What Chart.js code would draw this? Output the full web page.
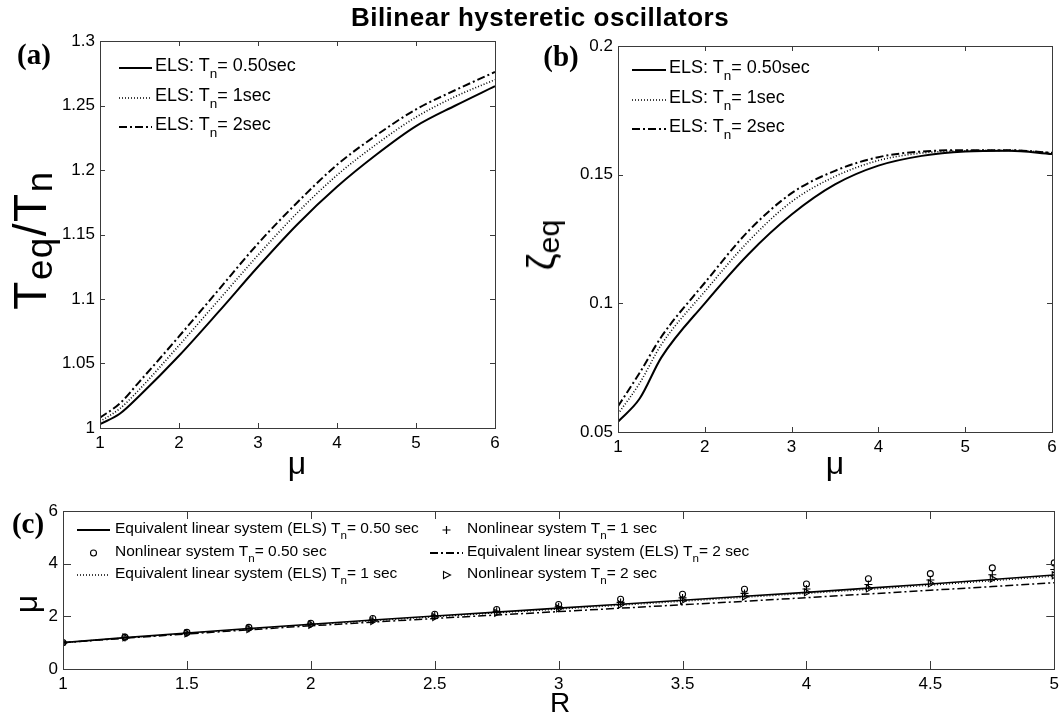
<!DOCTYPE html>
<html>
<head>
<meta charset="utf-8">
<title>Bilinear hysteretic oscillators</title>
<script src="https://cdn.jsdelivr.net/npm/chart.js@4.4.1/dist/chart.umd.min.js"></script>
<style>
  html, body { margin: 0; padding: 0; background: #fff; }
  #fig { position: relative; width: 1064px; height: 722px; overflow: hidden;
         font-family: "Liberation Sans", Arial, sans-serif; color: #000; }
  #fig canvas { position: absolute; }
  .txt { position: absolute; white-space: nowrap; line-height: 1; }
  .txt sub { font-size: 0.75em; vertical-align: -0.55em; line-height: 0; }
  .txt.ylab sub { font-size: 0.8em; vertical-align: -0.15em; }
  .ctr { transform: translate(-50%, -50%); }
  .rot { transform: translate(-50%, -50%) rotate(-90deg); }
  .panel { font-family: "Liberation Serif", "Times New Roman", serif; font-weight: bold; }
  .key { position: absolute; overflow: visible; }
</style>
</head>
<body>
<div id="fig">
  <canvas id="chart-a" width="520" height="470" style="left:0;top:0"></canvas>
  <canvas id="chart-b" width="544" height="470" style="left:520px;top:0"></canvas>
  <canvas id="chart-c" width="1064" height="242" style="left:0;top:480px"></canvas>

  <div class="txt ctr" style="left:540px;top:17px;font-size:26px;font-weight:bold;letter-spacing:0.5px">Bilinear hysteretic oscillators</div>

  <div class="txt ctr panel" style="left:34px;top:54px;font-size:29px">(a)</div>
  <div class="txt ctr panel" style="left:561px;top:56px;font-size:29px">(b)</div>
  <div class="txt ctr panel" style="left:28px;top:523px;font-size:29px">(c)</div>

  <div class="txt rot ylab" style="left:30px;top:240px;font-size:46px;letter-spacing:1.5px">T<sub>eq</sub>/T<sub>n</sub></div>
  <div class="txt rot ylab" style="left:541px;top:245px;font-size:38px">&zeta;<sub>eq</sub></div>
  <div class="txt ctr" style="left:297px;top:463px;font-size:32px">&mu;</div>
  <div class="txt ctr" style="left:835px;top:463px;font-size:32px">&mu;</div>
  <div class="txt rot" style="left:26px;top:604px;font-size:32px">&mu;</div>
  <div class="txt ctr" style="left:560px;top:703px;font-size:28px">R</div>
</div>

<script>
// ------------------------------------------------------------
// Bilinear hysteretic oscillators — three Chart.js panels
// ------------------------------------------------------------

// --- Panel (a) / (b): period ratio & damping vs ductility ---
var MU = [1, 1.25, 1.5, 2, 2.5, 3, 3.5, 4, 4.5, 5, 5.5, 6];

var TEQ_05 = [1.003, 1.011, 1.025, 1.056, 1.090, 1.125, 1.158, 1.187, 1.212, 1.234, 1.250, 1.265];
var TEQ_1  = [1.005, 1.015, 1.030, 1.064, 1.099, 1.134, 1.167, 1.196, 1.220, 1.241, 1.257, 1.270];
var TEQ_2  = [1.008, 1.019, 1.036, 1.071, 1.107, 1.143, 1.175, 1.204, 1.227, 1.247, 1.262, 1.276];

var ZEQ_05 = [0.054, 0.063, 0.079, 0.100, 0.119, 0.1345, 0.1462, 0.1535, 0.1573, 0.159, 0.1593, 0.158];
var ZEQ_1  = [0.057, 0.069, 0.084, 0.1046, 0.124, 0.1395, 0.1493, 0.1555, 0.1584, 0.1593, 0.1595, 0.1585];
var ZEQ_2  = [0.060, 0.073, 0.087, 0.108, 0.128, 0.1428, 0.1515, 0.1568, 0.159, 0.1595, 0.1595, 0.1585];

// --- Panel (c): ductility vs strength ratio R ---
var R_VAL  = [1, 1.25, 1.5, 1.75, 2, 2.25, 2.5, 2.75, 3, 3.25, 3.5, 3.75, 4, 4.25, 4.5, 4.75, 5];
var ELS_05 = [1.00, 1.19, 1.37, 1.54, 1.70, 1.86, 2.01, 2.16, 2.31, 2.46, 2.61, 2.76, 2.91, 3.07, 3.23, 3.40, 3.57];
var ELS_1  = [1.00, 1.18, 1.35, 1.52, 1.68, 1.83, 1.98, 2.13, 2.27, 2.42, 2.57, 2.72, 2.87, 3.02, 3.18, 3.35, 3.52];
var ELS_2  = [1.00, 1.17, 1.33, 1.49, 1.64, 1.78, 1.92, 2.05, 2.18, 2.31, 2.44, 2.57, 2.71, 2.85, 2.99, 3.13, 3.28];
var NL_05  = [1.00, 1.21, 1.39, 1.58, 1.74, 1.92, 2.08, 2.26, 2.45, 2.65, 2.84, 3.03, 3.23, 3.43, 3.62, 3.84, 4.03];
var NL_1   = [1.00, 1.20, 1.37, 1.55, 1.71, 1.87, 2.03, 2.19, 2.36, 2.53, 2.70, 2.87, 3.04, 3.21, 3.38, 3.58, 3.78];
var NL_2   = [1.00, 1.20, 1.35, 1.52, 1.68, 1.82, 1.97, 2.13, 2.30, 2.45, 2.60, 2.75, 2.91, 3.06, 3.25, 3.43, 3.56];

// --- Ticks ---
var MU_TICKS   = [1, 2, 3, 4, 5, 6];
var TEQ_TICKS  = [1, 1.05, 1.1, 1.15, 1.2, 1.25, 1.3];
var ZEQ_TICKS  = [0.05, 0.1, 0.15, 0.2];
var R_TICKS    = [1, 1.5, 2, 2.5, 3, 3.5, 4, 4.5, 5];
var MUC_TICKS  = [0, 2, 4, 6];

// --- Legend text ---
var TN_AB = ['0.50sec', '1sec', '2sec'];
var LEG_C = [
  'Equivalent linear system (ELS) T<sub>n</sub>= 0.50 sec',
  'Nonlinear system T<sub>n</sub>= 1 sec',
  'Nonlinear system T<sub>n</sub>= 0.50 sec',
  'Equivalent linear system (ELS) T<sub>n</sub>= 2 sec',
  'Equivalent linear system (ELS) T<sub>n</sub>= 1 sec',
  'Nonlinear system T<sub>n</sub>= 2 sec'
];

Chart.defaults.font.family = '"Liberation Sans", Arial, sans-serif';
Chart.defaults.color = '#000';

var DASHES = { solid: [], dotted: [1, 2], dashdot: [8, 3, 2, 3] };

// MATLAB-like box with inward ticks on all four sides
var frameTicks = {
  id: 'frameTicks',
  afterDraw: function (chart, args, opts) {
    var ctx = chart.ctx, a = chart.chartArea;
    var xs = chart.scales.x, ys = chart.scales.y;
    ctx.save();
    ctx.strokeStyle = '#3a3a3a';
    ctx.lineWidth = 1;
    ctx.beginPath();
    xs.ticks.forEach(function (t) {
      var px = Math.round(xs.getPixelForValue(t.value)) + 0.5;
      ctx.moveTo(px, a.bottom); ctx.lineTo(px, a.bottom - opts.lenX);
      ctx.moveTo(px, a.top); ctx.lineTo(px, a.top + opts.lenX);
    });
    ys.ticks.forEach(function (t) {
      var py = Math.round(ys.getPixelForValue(t.value)) + 0.5;
      ctx.moveTo(a.left, py); ctx.lineTo(a.left + opts.lenY, py);
      ctx.moveTo(a.right, py); ctx.lineTo(a.right - opts.lenY, py);
    });
    ctx.stroke();
    ctx.strokeRect(Math.round(a.left) + 0.5, Math.round(a.top) + 0.5,
                   Math.round(a.right - a.left), Math.round(a.bottom - a.top));
    ctx.restore();
  }
};

function pts(xs, ys) {
  return xs.map(function (x, i) { return { x: x, y: ys[i] }; });
}

function lineSet(xs, ys, style, width, smooth) {
  return {
    data: pts(xs, ys),
    borderColor: '#000',
    borderWidth: width,
    borderDash: DASHES[style],
    pointRadius: 0,
    fill: false,
    tension: smooth ? 0.4 : 0,
    cubicInterpolationMode: smooth ? 'monotone' : 'default'
  };
}

function markerSet(xs, ys, shape, radius, rot) {
  return {
    data: pts(xs, ys),
    showLine: false,
    pointStyle: shape,
    pointRadius: radius,
    pointRotation: rot || 0,
    pointBorderColor: '#000',
    pointBackgroundColor: 'rgba(0,0,0,0)',
    pointBorderWidth: 1.1
  };
}

function fmt(v) { return String(+Number(v).toFixed(3)); }

function axis(ticks, fontSize, pad, fit) {
  return {
    type: 'linear',
    min: ticks[0],
    max: ticks[ticks.length - 1],
    afterBuildTicks: function (s) {
      s.ticks = ticks.map(function (v) { return { value: v }; });
    },
    afterFit: fit,
    grid: { display: false, drawTicks: false },
    border: { display: false },
    ticks: {
      font: { size: fontSize },
      padding: pad,
      maxRotation: 0,
      autoSkip: false,
      callback: fmt
    }
  };
}

function makeChart(id, datasets, xTicks, yTicks, box) {
  return new Chart(document.getElementById(id), {
    type: 'line',
    data: { datasets: datasets },
    options: {
      responsive: false,
      animation: false,
      events: [],
      layout: { padding: { left: 0, top: box.top, right: box.right, bottom: box.bottom } },
      plugins: {
        legend: { display: false },
        tooltip: { enabled: false },
        frameTicks: { lenX: box.tickX, lenY: box.tickY }
      },
      scales: {
        x: axis(xTicks, box.font, 5, function (s) { s.height = box.xh; }),
        y: axis(yTicks, box.font, 5, function (s) { s.width = box.yw; })
      }
    },
    plugins: [frameTicks]
  });
}

// --- Legend helpers (HTML over the canvas) ---
var fig = document.getElementById('fig');

function keySvg(kind, x, y, w) {
  var c = w / 2, shape;
  if (kind === 'circle') {
    shape = '<circle cx="' + c + '" cy="6" r="3" fill="none" stroke="#000" stroke-width="1.1"/>';
  } else if (kind === 'plus') {
    shape = '<path d="M' + (c - 4) + ' 6H' + (c + 4) + 'M' + c + ' 2V10" stroke="#000" stroke-width="1.2"/>';
  } else if (kind === 'tri') {
    shape = '<polygon points="' + (c - 3) + ',2.5 ' + (c + 4) + ',6 ' + (c - 3) + ',9.5" fill="none" stroke="#000" stroke-width="1.1"/>';
  } else {
    var wid = kind === 'dotted' ? 1.5 : 2;
    var dash = DASHES[kind].join(' ');
    shape = '<line x1="0" y1="6" x2="' + w + '" y2="6" stroke="#000" stroke-width="' + wid + '"' +
      (dash ? ' stroke-dasharray="' + dash + '"' : '') + '/>';
  }
  fig.insertAdjacentHTML('beforeend',
    '<svg class="key" width="' + w + '" height="12" style="left:' + x + 'px;top:' + (y - 6) + 'px">' + shape + '</svg>');
}

function keyText(html, x, y, size) {
  fig.insertAdjacentHTML('beforeend',
    '<div class="txt" style="left:' + x + 'px;top:' + (y - size / 2) + 'px;font-size:' + size + 'px">' + html + '</div>');
}

// --- Panels ---
makeChart('chart-a', [
  lineSet(MU, TEQ_05, 'solid', 2, true),
  lineSet(MU, TEQ_1, 'dotted', 1.6, true),
  lineSet(MU, TEQ_2, 'dashdot', 2, true)
], MU_TICKS, TEQ_TICKS, { top: 41, right: 25, bottom: 12, xh: 30, yw: 100, font: 17, tickX: 5, tickY: 5 });

makeChart('chart-b', [
  lineSet(MU, ZEQ_05, 'solid', 2, true),
  lineSet(MU, ZEQ_1, 'dotted', 1.6, true),
  lineSet(MU, ZEQ_2, 'dashdot', 2, true)
], MU_TICKS, ZEQ_TICKS, { top: 46, right: 12, bottom: 8, xh: 30, yw: 98, font: 17, tickX: 5, tickY: 5 });

makeChart('chart-c', [
  markerSet(R_VAL, NL_05, 'circle', 3),
  markerSet(R_VAL, NL_1, 'cross', 4),
  markerSet(R_VAL, NL_2, 'triangle', 4, 90),
  lineSet(R_VAL, ELS_05, 'solid', 1.6, false),
  lineSet(R_VAL, ELS_1, 'dotted', 1.2, false),
  lineSet(R_VAL, ELS_2, 'dashdot', 1.5, false)
], R_TICKS, MUC_TICKS, { top: 31, right: 7, bottom: 25, xh: 28, yw: 63, font: 17, tickX: 8, tickY: 8 });

// legends (a) and (b)
var STYLES_AB = ['solid', 'dotted', 'dashdot'];
[65, 94.5, 124].forEach(function (y, i) {
  keySvg(STYLES_AB[i], 119, y + 3, 33);
  keyText('ELS: T<sub>n</sub>= ' + TN_AB[i], 155, y, 18);
});
[66.5, 96.5, 125.5].forEach(function (y, i) {
  keySvg(STYLES_AB[i], 632, y + 3, 34);
  keyText('ELS: T<sub>n</sub>= ' + TN_AB[i], 669, y, 18);
});

// legend (c): two columns, three rows
var KEYS_C = ['solid', 'plus', 'circle', 'dashdot', 'dotted', 'tri'];
[528, 551, 573].forEach(function (y, row) {
  keySvg(KEYS_C[row * 2], 77, y + 2, 33);
  keyText(LEG_C[row * 2], 115, y, 15.5);
  keySvg(KEYS_C[row * 2 + 1], 430, y + 2, 33);
  keyText(LEG_C[row * 2 + 1], 467, y, 15.5);
});
</script>
</body>
</html>
